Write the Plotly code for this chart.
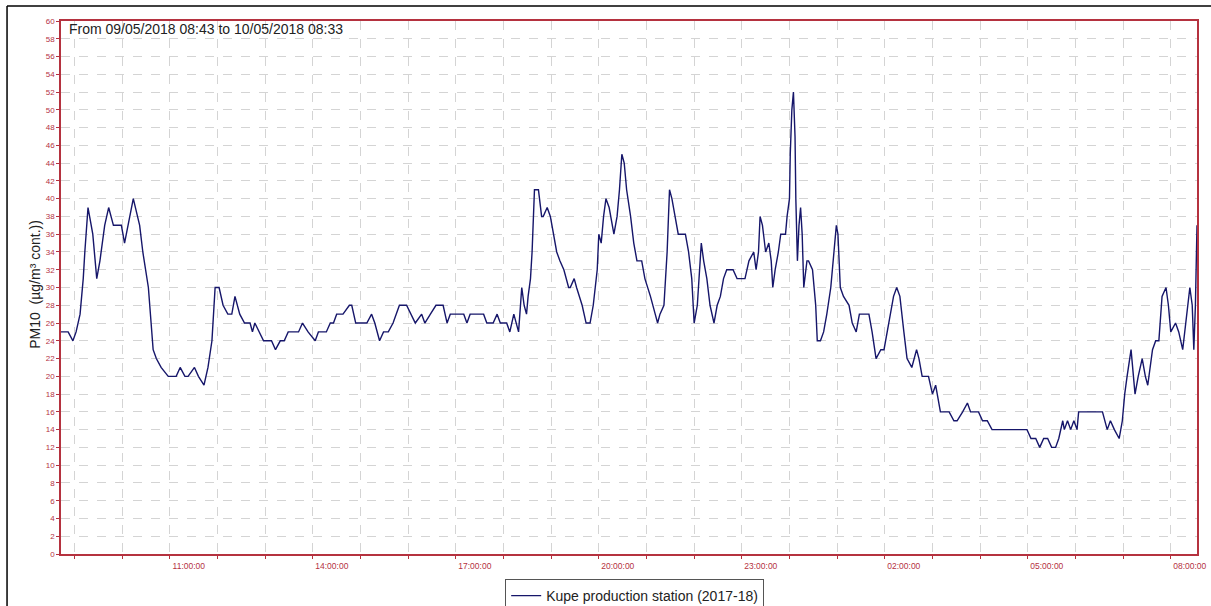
import pandas as pd
import plotly.graph_objects as go

# minutes elapsed since 09/05/2018 08:43 and PM10 values
minutes = [0, 9, 15, 19, 24, 28, 30, 34, 36, 40, 45, 49, 55, 60, 66, 76, 80, 87, 91, 99,
           103, 110, 116, 120, 126, 135, 145, 150, 156, 160, 168, 173, 180, 185, 190, 194, 199, 204, 210, 215,
           219, 225, 231, 238, 241, 244, 250, 255, 265, 270, 276, 281, 286, 299, 304, 311, 320, 324, 334, 339,
           343, 347, 355, 363, 366, 371, 385, 391, 395, 401, 406, 412, 418, 426, 435, 446, 454, 458, 465, 472,
           481, 486, 490, 507, 511, 515, 532, 536, 544, 549, 553, 561, 565, 570, 576, 580, 583, 586, 588, 591,
           593, 595, 596, 601, 605, 607, 612, 616, 620, 624, 628, 633, 639, 641, 646, 649, 656, 661, 666, 670,
           675, 677, 680, 683, 686, 690, 696, 700, 703, 706, 709, 712, 717, 721, 725, 731, 735, 742, 748, 751,
           754, 759, 763, 766, 769, 773, 777, 786, 790, 794, 797, 801, 804, 806, 809, 813, 817, 822, 826, 830,
           834, 838, 846, 851, 861, 866, 872, 875, 878, 880, 883, 887, 891, 894, 896, 899, 903, 906, 912, 914,
           917, 918, 920, 922, 924, 925, 927, 929, 931, 933, 935, 939, 941, 946, 950, 952, 956, 960, 964, 969,
           973, 976, 978, 981, 985, 992, 996, 1001, 1005, 1017, 1021, 1026, 1032, 1036, 1042, 1048, 1052, 1056, 1061, 1065,
           1071, 1077, 1080, 1084, 1092, 1097, 1101, 1103, 1107, 1111, 1118, 1124, 1128, 1135, 1141, 1145, 1155, 1160, 1166, 1172,
           1216, 1221, 1227, 1232, 1237, 1242, 1247, 1252, 1256, 1261, 1263, 1267, 1271, 1275, 1279, 1281, 1311, 1317, 1321, 1326,
           1332, 1336, 1339, 1342, 1347, 1352, 1356, 1361, 1365, 1368, 1374, 1378, 1382, 1386, 1391, 1394, 1397, 1403, 1407, 1412,
           1417, 1421, 1424, 1426, 1428, 1429, 1430]
pm10 = [25, 25, 24, 25, 27, 31, 34, 39, 38, 36, 31, 33, 37, 39, 37, 37, 35, 38, 40, 37,
        34, 30, 23, 22, 21, 20, 20, 21, 20, 20, 21, 20, 19, 21, 24, 30, 30, 28, 27, 27,
        29, 27, 26, 26, 25, 26, 25, 24, 24, 23, 24, 24, 25, 25, 26, 25, 24, 25, 25, 26,
        26, 27, 27, 28, 28, 26, 26, 27, 26, 24, 25, 25, 26, 28, 28, 26, 27, 26, 27, 28,
        28, 26, 27, 27, 26, 27, 27, 26, 26, 27, 26, 26, 25, 27, 25, 30, 28, 27, 29, 31,
        34, 38, 41, 41, 38, 38, 39, 38, 36, 34, 33, 32, 30, 30, 31, 30, 28, 26, 26, 28,
        32, 36, 35, 38, 40, 39, 36, 38, 41, 45, 44, 41, 38, 35, 33, 33, 31, 29, 27, 26,
        27, 28, 34, 41, 40, 38, 36, 36, 34, 31, 26, 28, 32, 35, 33, 31, 28, 26, 28, 29,
        31, 32, 32, 31, 31, 33, 34, 32, 34, 38, 37, 34, 35, 33, 30, 32, 34, 36, 36, 38,
        40, 45, 50, 52, 47, 40, 33, 37, 39, 36, 30, 33, 33, 32, 28, 24, 24, 25, 27, 30,
        34, 37, 36, 30, 29, 28, 26, 25, 27, 27, 25, 22, 23, 23, 26, 29, 30, 29, 25, 22,
        21, 23, 22, 20, 20, 18, 19, 18, 16, 16, 16, 15, 15, 16, 17, 16, 16, 15, 15, 14,
        14, 13, 13, 12, 13, 13, 12, 12, 13, 15, 14, 15, 14, 15, 14, 16, 16, 14, 15, 14,
        13, 15, 18, 20, 23, 18, 20, 22, 20, 19, 23, 24, 24, 29, 30, 28, 25, 26, 25, 23,
        27, 30, 28, 23, 28, 33, 37]

start = pd.Timestamp("2018-05-09 08:43")
end = pd.Timestamp("2018-05-10 08:33")
times = [start + pd.Timedelta(minutes=m) for m in minutes]

hour_ticks = pd.date_range("2018-05-09 09:00", "2018-05-10 08:00", freq="h")
labelled_hours = [11, 14, 17, 20, 23, 2, 5, 8]
tick_text = [t.strftime("%H:%M:%S") if t.hour in labelled_hours else "" for t in hour_ticks]

series_name = "Kupe production station (2017-18)"
title_text = "From 09/05/2018 08:43 to 10/05/2018 08:33"
y_title = "PM10  (µg/m³ cont.))"

axis_red = "#b5323f"
grid_col = "#d4d4d4"

fig = go.Figure()
fig.add_trace(go.Scatter(x=times, y=pm10, mode="lines", name=series_name,
                         line=dict(color="#16166a", width=1.4)))

fig.update_layout(
    width=1211, height=606,
    margin=dict(l=61, r=14, t=21, b=52, autoexpand=False),
    paper_bgcolor="white", plot_bgcolor="white",
    font=dict(family="Liberation Sans, Arial, sans-serif", color="#222222"),
    showlegend=True,
    legend=dict(orientation="h", x=0.505, xanchor="center", y=-0.047, yanchor="top",
                bordercolor="#555555", borderwidth=1, font=dict(size=14, color="#222222"),
                itemwidth=30),
)
fig.update_xaxes(
    range=[start, end], tickvals=hour_ticks, ticktext=tick_text,
    tickfont=dict(size=8.5, color=axis_red), ticklabelshift=19,
    showline=True, linecolor=axis_red, linewidth=1.5, mirror=True,
    ticks="outside", ticklen=3, tickcolor=axis_red,
    showgrid=True, gridcolor=grid_col, griddash="dash", gridwidth=1,
    zeroline=False, automargin=False,
)
fig.update_yaxes(
    range=[0, 60], dtick=2, tick0=0,
    tickfont=dict(size=8, color=axis_red),
    showline=True, linecolor=axis_red, linewidth=1.5, mirror=True,
    ticks="outside", ticklen=3, tickcolor=axis_red,
    showgrid=True, gridcolor=grid_col, griddash="dash", gridwidth=1,
    zeroline=False, automargin=False,
)
fig.add_annotation(text=title_text, xref="paper", yref="paper", x=0.005, y=1.003,
                   xanchor="left", yanchor="top", showarrow=False,
                   font=dict(size=14, color="#222222"))
fig.add_annotation(text=y_title, xref="paper", yref="paper", x=-0.0229, y=0.507,
                   xanchor="center", yanchor="middle", textangle=-90, showarrow=False,
                   font=dict(size=14, color="#222222"))
# outer frame lines (left and top edges of the picture)
fig.add_shape(type="line", xref="paper", yref="paper", x0=-0.0475, x1=-0.0475, y0=1.028, y1=-0.2,
              line=dict(color="black", width=1.5))
fig.add_shape(type="line", xref="paper", yref="paper", x0=-0.0475, x1=1.02, y0=1.028, y1=1.028,
              line=dict(color="black", width=1.5))

fig.write_html("out.html", config={"displayModeBar": False},
               post_script="document.body.style.margin='0px';")
